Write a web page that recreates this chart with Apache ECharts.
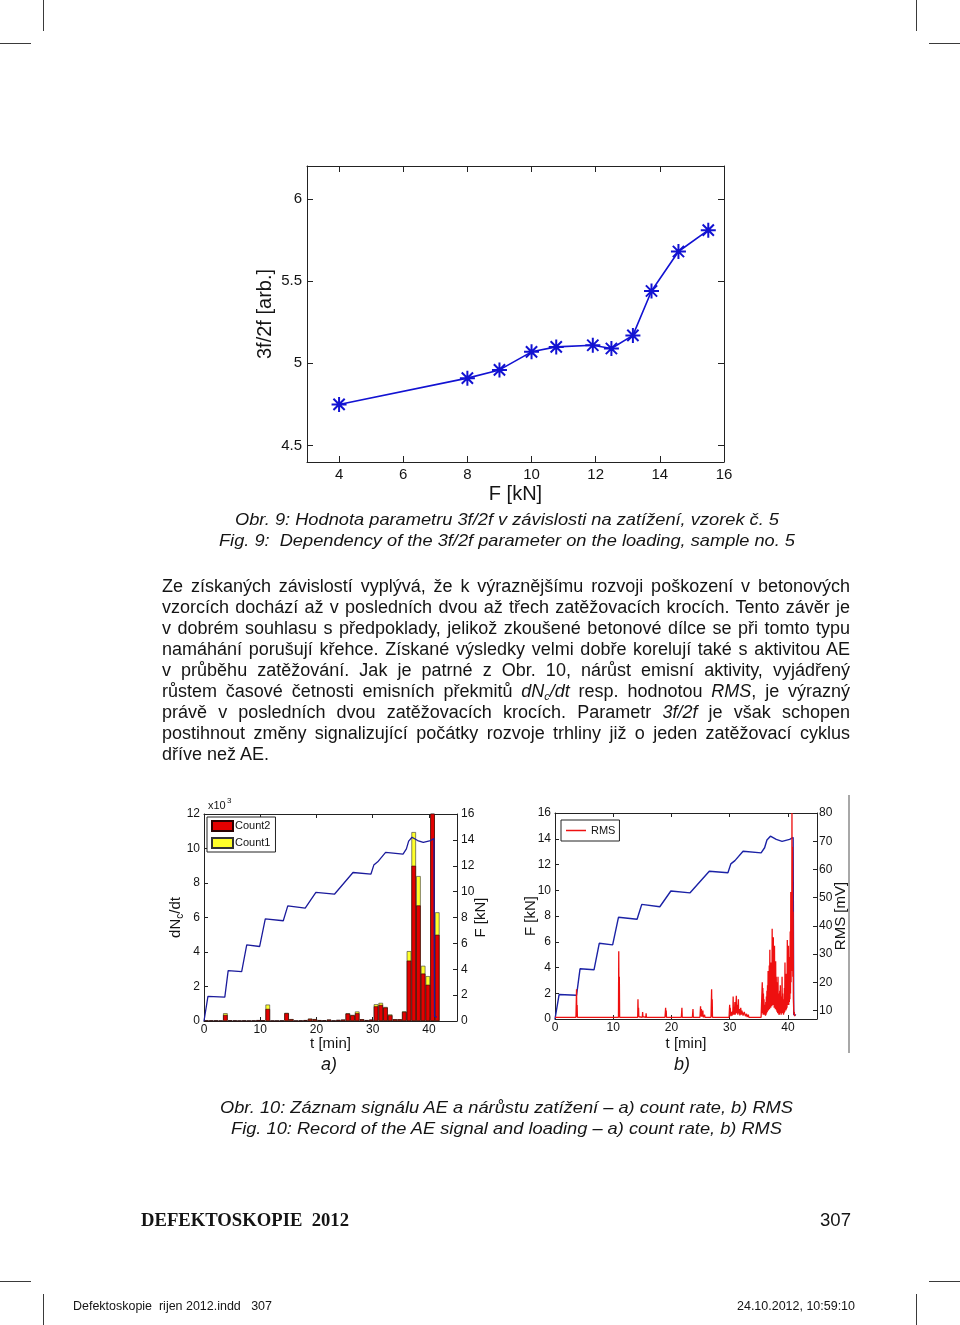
<!DOCTYPE html>
<html><head><meta charset="utf-8">
<script src="https://cdn.jsdelivr.net/npm/echarts@6/dist/echarts.min.js"></script>
<style>
html,body{margin:0;padding:0;background:#fff;}
#page{position:relative;width:960px;height:1325px;overflow:hidden;background:#fff;}
#chart{position:absolute;left:0;top:0;width:960px;height:1325px;}
.t{position:absolute;white-space:nowrap;font-family:"Liberation Sans",Arial,Helvetica,sans-serif;color:#141414;transform-origin:0 50%;}
.cap{font-style:italic;font-size:17px;line-height:21px;}
.pl{font-size:18px;line-height:21px;}
.pl sub{font-size:11px;line-height:0;vertical-align:-3px;}
.mk{position:absolute;background:#3a3a3a;}
</style></head>
<body><div id="page"><div id="chart"></div>

<div class="t cap" data-l="235" data-r="779" data-cy="519">Obr. 9: Hodnota parametru 3f/2f v závislosti na zatížení, vzorek č. 5</div>
<div class="t cap" data-l="219" data-r="795" data-cy="540">Fig. 9:&nbsp; Dependency of the 3f/2f parameter on the loading, sample no. 5</div>

<div class="t pl" data-l="162" data-r="850" data-cy="586" data-mode="justify">Ze získaných závislostí vyplývá, že k výraznějšímu rozvoji poškození v betonových</div>
<div class="t pl" data-l="162" data-r="850" data-cy="607" data-mode="justify">vzorcích dochází až v posledních dvou až třech zatěžovacích krocích. Tento závěr je</div>
<div class="t pl" data-l="162" data-r="850" data-cy="628" data-mode="justify">v dobrém souhlasu s předpoklady, jelikož zkoušené betonové dílce se při tomto typu</div>
<div class="t pl" data-l="162" data-r="850" data-cy="649" data-mode="justify">namáhání porušují křehce. Získané výsledky velmi dobře korelují také s aktivitou AE</div>
<div class="t pl" data-l="162" data-r="850" data-cy="670" data-mode="justify">v průběhu zatěžování. Jak je patrné z Obr. 10, nárůst emisní aktivity, vyjádřený</div>
<div class="t pl" data-l="162" data-r="850" data-cy="691" data-mode="justify">růstem časové četnosti emisních překmitů <i>dN<sub>c</sub>/dt</i> resp. hodnotou <i>RMS</i>, je výrazný</div>
<div class="t pl" data-l="162" data-r="850" data-cy="712" data-mode="justify">právě v posledních dvou zatěžovacích krocích. Parametr <i>3f/2f</i> je však schopen</div>
<div class="t pl" data-l="162" data-r="850" data-cy="733" data-mode="justify">postihnout změny signalizující počátky rozvoje trhliny již o jeden zatěžovací cyklus</div>
<div class="t pl" data-l="162" data-cy="754">dříve než AE.</div>

<div class="t cap" style="font-size:18px" data-l="321" data-cy="1064">a)</div>
<div class="t cap" style="font-size:18px" data-l="674" data-cy="1064">b)</div>

<div class="t cap" data-l="220" data-r="793" data-cy="1107">Obr. 10: Záznam signálu AE a nárůstu zatížení – a) count rate, b) RMS</div>
<div class="t cap" data-l="231" data-r="782" data-cy="1128">Fig. 10: Record of the AE signal and loading – a) count rate, b) RMS</div>

<div class="t" style="font-family:'Liberation Serif','Times New Roman',serif;font-weight:bold;font-size:19px;line-height:22px;" data-l="141" data-r="349" data-cy="1220">DEFEKTOSKOPIE&nbsp; 2012</div>
<div class="t" style="font-size:19px;line-height:22px;" data-l="820" data-r="851" data-cy="1220">307</div>

<div class="t" style="font-size:12.5px;line-height:15px;" data-l="73" data-r="272" data-cy="1306">Defektoskopie&nbsp; rijen 2012.indd&nbsp;&nbsp; 307</div>
<div class="t" style="font-size:12.5px;line-height:15px;" data-l="737" data-r="855" data-cy="1306">24.10.2012, 10:59:10</div>

<div class="mk" style="left:0;top:43px;width:31px;height:1px"></div>
<div class="mk" style="left:43px;top:0;width:1px;height:31px"></div>
<div class="mk" style="left:929px;top:43px;width:31px;height:1px"></div>
<div class="mk" style="left:916px;top:0;width:1px;height:31px"></div>
<div class="mk" style="left:0;top:1281px;width:31px;height:1px"></div>
<div class="mk" style="left:43px;top:1294px;width:1px;height:31px"></div>
<div class="mk" style="left:929px;top:1281px;width:31px;height:1px"></div>
<div class="mk" style="left:916px;top:1294px;width:1px;height:31px"></div>
<div class="mk" style="left:848px;top:795px;width:2px;height:258px;background:#a8a8a8"></div>
</div>
<script>
// ---------- Fig. 9 data ----------
const loadKN    = [4, 8, 9, 10, 10.77, 11.91, 12.49, 13.16, 13.74, 14.58, 15.51];
const ratio3f2f = [4.75, 4.91, 4.96, 5.07, 5.10, 5.11, 5.09, 5.17, 5.44, 5.68, 5.81];
const loadTicks  = [4, 6, 8, 10, 12, 14, 16];
const ratioTicks = [4.5, 5, 5.5, 6];

// ---------- Fig. 10 data ----------
const timeTicks  = [0, 10, 20, 30, 40];
const countTicks = [0, 2, 4, 6, 8, 10, 12];
const forceTicks = [0, 2, 4, 6, 8, 10, 12, 14, 16];
const rmsTicks   = [10, 20, 30, 40, 50, 60, 70, 80];

const binTimes = [0.45,1.29,2.12,2.96,3.8,4.64,5.48,6.31,7.15,7.99,
  8.83,9.66,10.5,11.34,12.18,13.01,13.85,14.69,15.53,16.36,
  17.2,18.04,18.88,19.71,20.55,21.39,22.23,23.06,23.9,24.74,
  25.58,26.41,27.25,28.09,28.93,29.76,30.6,31.44,32.28,33.11,
  33.95,34.79,35.63,36.46,37.3,38.14,38.98,39.81,40.65,41.49];
// counts in thousands (x10^3)
const count2 = [0.02,0.02,0.02,0.01,0.35,0.03,0.02,0.01,0.02,0.01,
  0.02,0.05,0.04,0.7,0.01,0.01,0.02,0.45,0.1,0.01,
  0.02,0.05,0.12,0.1,0.05,0.04,0.08,0.02,0.06,0.08,
  0.43,0.33,0.45,0.1,0.05,0.08,0.85,0.93,0.78,0.33,
  0.1,0.1,0.53,3.5,9.0,6.7,2.75,2.1,14,5.0];
const count1 = [0,0,0,0,0.1,0,0,0,0,0,
  0,0,0,0.25,0,0,0,0.02,0.01,0,
  0,0,0.02,0.01,0,0,0,0,0,0,
  0.02,0.02,0.1,0,0,0,0.12,0.12,0.03,0.05,
  0,0,0.03,0.55,1.95,1.7,0.45,0.5,1.5,1.3];

const forceTime = [0,0.7,3.7,4.3,6.7,7.6,9.9,10.9,14.1,14.9,18.0,19.9,23.2,26.5,29.7,30.2,30.9,32.3,35.4,36.0,36.4,37.0,38.0,39.0,40.3,40.9,41.0,41.4];
const forceKN   = [0,1.9,1.84,3.9,3.82,5.88,5.76,7.9,7.75,8.9,8.72,9.94,9.8,11.48,11.36,12.05,12.3,13.03,12.9,13.3,13.9,14.2,13.95,13.8,13.95,14.1,0.35,0.3];

const rmsSignal = [
 [0,7.6],[3.6,7.6],[3.7,17.5],[3.75,7.6],[3.8,12],[3.85,7.6],[7.3,7.6],[7.35,8.3],[7.4,7.6],
 [9.6,7.6],[9.65,8.2],[9.7,7.6],[10.9,7.6],[10.95,31],[11.0,8],[11.05,22],[11.1,7.6],
 [12.5,7.6],[12.55,8.2],[12.6,7.6],[14.2,7.6],[14.25,14],[14.3,8.5],[14.35,11],[14.4,7.8],
 [15.0,7.6],[15.05,9.5],[15.1,7.8],[15.3,8.5],[15.35,7.6],[15.6,7.6],[15.65,9],[15.7,7.6],[16.0,8.2],[16.05,7.6],
 [18.9,7.6],[19.0,11],[19.05,7.8],[19.1,10],[19.15,7.6],[21.7,7.6],[21.8,11],[21.85,7.6],
 [23.6,7.6],[23.7,10.5],[23.75,7.6],[24.9,7.6],[25.0,11.5],[25.05,8],[25.15,10.5],[25.2,7.8],[25.4,10],[25.45,7.6],
 [25.7,8.5],[25.75,7.6],[26.8,7.6],[26.9,17.5],[26.95,8],[27.0,14],[27.05,7.6],
 [29.9,7.6],[30.0,12],[30.05,8.5],[30.1,11],[30.2,8],[30.3,9.5],[30.4,8.2],[30.55,10],[30.6,15],[30.65,8.5],
 [30.75,11],[30.8,8.5],[30.9,13],[30.95,8.5],[31.05,11],[31.15,15.2],[31.2,9],[31.3,12],[31.4,8.5],[31.5,14],
 [31.55,9],[31.65,10.5],[31.75,8.3],[31.9,11],[32.0,8.5],[32.1,10],[32.3,8.2],[32.5,9.5],[32.7,8],[32.9,8.8],
 [33.0,7.7],[33.2,8.5],[33.3,7.6],[35.4,7.6],[35.5,8],
 [35.6,20],[35.65,9],[35.7,18],[35.75,8.5],[35.8,16],[35.85,9],[35.9,14],[35.95,8.5],[36.0,12],[36.05,8.5],
 [36.1,11],[36.15,8.2],[36.2,13],[36.25,8.5],[36.3,15],[36.35,9],[36.4,17],[36.45,9.5],[36.5,19],[36.55,10],
 [36.6,24],[36.65,10],[36.7,21],[36.75,11],[36.8,26],[36.85,10.5],[36.9,31.5],[36.95,12],[37.0,22],[37.05,11],
 [37.1,27],[37.15,12],[37.2,24],[37.25,11.5],[37.3,39],[37.35,13],[37.4,25],[37.45,12],[37.5,36],[37.55,12.5],
 [37.6,28],[37.65,11],[37.7,33],[37.75,12],[37.8,24],[37.85,10.5],[37.9,27.5],[37.95,11],[38.0,22],[38.05,10],
 [38.1,20],[38.15,9.5],[38.2,18],[38.25,9],[38.3,22],[38.35,9],[38.4,16],[38.45,8.5],[38.5,14],[38.55,8.5],
 [38.6,17],[38.65,9],[38.7,19],[38.75,9],[38.8,15],[38.85,8.5],[38.9,13],[38.95,9],[39.0,22],[39.05,9.5],
 [39.1,16],[39.15,9],[39.2,12],[39.25,8.5],[39.3,14],[39.35,9],[39.4,18],[39.45,9.5],[39.5,27],[39.55,10],
 [39.6,20],[39.65,10],[39.7,23],[39.75,10.5],[39.8,19],[39.85,11],[39.9,35],[39.95,12],[40.0,26],[40.05,12],
 [40.1,33],[40.15,12],[40.2,22],[40.25,13],[40.3,29],[40.35,14],[40.4,38],[40.45,16],[40.5,52],[40.55,20],
 [40.6,46],[40.65,24],[40.7,80],[40.75,30],[40.8,68],[40.85,22],[40.9,45],[40.95,14],[41.0,10],[41.05,8.5],
 [41.1,9.5],[41.15,8],[41.2,8.5],[41.25,7.8],[41.3,8]
];

// ---------- layout text ----------
document.querySelectorAll('.t').forEach(el=>{
  const l=+el.dataset.l, cy=+el.dataset.cy;
  el.style.left=l+'px';
  el.style.top=(cy-el.offsetHeight/2)+'px';
  if(el.dataset.r){
    const target=+el.dataset.r-l;
    const w=el.getBoundingClientRect().width;
    if(el.dataset.mode==='justify' && w<target){
      const n=(el.textContent.match(/[ \u00a0]/g)||[]).length;
      el.style.wordSpacing=((target-w)/n)+'px';
    } else {
      el.style.transform='scaleX('+(target/w)+')';
    }
  }
});

// ---------- chart ----------
const FF='"Liberation Sans", Arial, Helvetica, sans-serif';
const TC='#141414';
function axis(o){
  const side = (o.position==='left'||o.position==='right');
  return {
    type:'value', gridIndex:o.grid, position:o.position, min:o.min, max:o.max,
    name:o.name||'', nameLocation:'middle', nameGap:o.nameGap||0, nameRotate: side?90:0,
    nameMoveOverlap:false,
    nameTextStyle:Object.assign({fontFamily:FF, fontSize:o.nameSize||15, color:TC}, o.nameStyle||{}),
    axisLine:{show:true, onZero:false, lineStyle:{color:'#222', width:1}},
    axisTick:{show:true, inside:true, length:o.tickLen||4, customValues:o.ticks, lineStyle:{color:'#222', width:1}},
    axisLabel:{show:o.labels!==false, customValues:o.ticks, fontFamily:FF, fontSize:o.fontSize||12, color:TC, margin:o.margin||4},
    splitLine:{show:false}, splitArea:{show:false}
  };
}
const STAR='path://M0,-10L0,10M-10,0L10,0M-7.5,-7.5L7.5,7.5M-7.5,7.5L7.5,-7.5';
const countTotal = count2.map((v,i)=>v+count1[i]);
const chart=echarts.init(document.getElementById('chart'));
chart.setOption({
  animation:false,
  backgroundColor:'transparent',
  grid:[
    {left:307, top:166, width:417, height:296},
    {left:204, top:814, width:253, height:207},
    {left:555, top:813, width:262, height:206}
  ],
  xAxis:[
    axis({grid:0, position:'bottom', min:3, max:16, ticks:loadTicks, fontSize:15, margin:5, name:'F [kN]', nameSize:20, nameGap:22, tickLen:6}),
    axis({grid:0, position:'top', min:3, max:16, ticks:loadTicks, labels:false, tickLen:6}),
    axis({grid:1, position:'bottom', min:0, max:45, ticks:timeTicks, name:'t [min]', nameGap:15, margin:3}),
    axis({grid:1, position:'top', min:0, max:45, ticks:timeTicks, labels:false}),
    axis({grid:2, position:'bottom', min:0, max:45, ticks:timeTicks, name:'t [min]', nameGap:17, margin:3}),
    axis({grid:2, position:'top', min:0, max:45, ticks:timeTicks, labels:false})
  ],
  yAxis:[
    axis({grid:0, position:'left', min:4.4, max:6.2, ticks:ratioTicks, fontSize:15, margin:5, name:'3f/2f [arb.]', nameSize:20, nameGap:32, tickLen:6}),
    axis({grid:0, position:'right', min:4.4, max:6.2, ticks:ratioTicks, labels:false, tickLen:6}),
    axis({grid:1, position:'left', min:0, max:12, ticks:countTicks, name:'dN{s|c}/dt', nameGap:19,
          nameStyle:{lineHeight:18, rich:{s:{fontSize:10, lineHeight:10, verticalAlign:'bottom', fontFamily:FF, color:TC}}}}),
    axis({grid:1, position:'right', min:0, max:16, ticks:forceTicks, name:'F [kN]', nameGap:16}),
    axis({grid:2, position:'left', min:0, max:16, ticks:forceTicks, name:'F [kN]', nameGap:17}),
    axis({grid:2, position:'right', min:7, max:80, ticks:rmsTicks, name:'RMS [mV]', nameGap:16, margin:2})
  ],
  legend:[
    {data:['Count2','Count1'], left:207, top:817, orient:'vertical', icon:'rect', itemWidth:21, itemHeight:10, itemGap:5,
     padding:[3,5,3,4], borderColor:'#222', borderWidth:1, backgroundColor:'#fff', selectedMode:false,
     textStyle:{fontFamily:FF, fontSize:11, color:TC, padding:[0,0,0,-3]}},
    {data:[{name:'RMS', icon:'rect'}], left:561, top:820, orient:'vertical', itemWidth:20, itemHeight:1.5, itemGap:4,
     padding:[5,4,5,5], borderColor:'#222', borderWidth:1, backgroundColor:'#fff', selectedMode:false,
     textStyle:{fontFamily:FF, fontSize:11, color:TC, padding:[0,0,0,0]}}
  ],
  graphic:[
    {type:'text', left:208, top:800, style:{text:'x10', fontFamily:FF, fontSize:11, fill:TC}},
    {type:'text', left:227, top:797, style:{text:'3', fontFamily:FF, fontSize:8, fill:TC}}
  ],
  series:[
    {type:'line', name:'3f/2f', xAxisIndex:0, yAxisIndex:0, data:loadKN.map((x,i)=>[x,ratio3f2f[i]]),
     symbol:STAR, symbolSize:15, showAllSymbol:true,
     lineStyle:{color:'#1212d2', width:1.6},
     itemStyle:{color:'rgba(0,0,0,0)', borderColor:'#1212d2', borderWidth:2}},
    {type:'bar', name:'Count1', xAxisIndex:2, yAxisIndex:2, barWidth:4.5, barGap:'-100%', clip:true,
     data:binTimes.map((t,i)=>[t,countTotal[i]]),
     itemStyle:{color:'#ffff2a', borderColor:'#333', borderWidth:0.6}},
    {type:'bar', name:'Count2', xAxisIndex:2, yAxisIndex:2, barWidth:4.5, barGap:'-100%', clip:true,
     data:binTimes.map((t,i)=>[t,count2[i]]),
     itemStyle:{color:'#e30000', borderColor:'#2a0000', borderWidth:0.6}},
    {type:'line', name:'Fa', xAxisIndex:2, yAxisIndex:3, data:forceTime.map((t,i)=>[t,forceKN[i]]),
     symbol:'none', z:4, lineStyle:{color:'#1b1b9c', width:1.3}},
    {type:'line', name:'Fb', xAxisIndex:4, yAxisIndex:4, data:forceTime.map((t,i)=>[t,forceKN[i]]),
     symbol:'none', z:2, lineStyle:{color:'#1b22a6', width:1.4}},
    {type:'line', name:'RMS', xAxisIndex:4, yAxisIndex:5, data:rmsSignal, clip:true,
     symbol:'none', z:3, itemStyle:{color:'#ee1010'}, lineStyle:{color:'#ee1010', width:1.3}}
  ]
});
</script></body></html>
